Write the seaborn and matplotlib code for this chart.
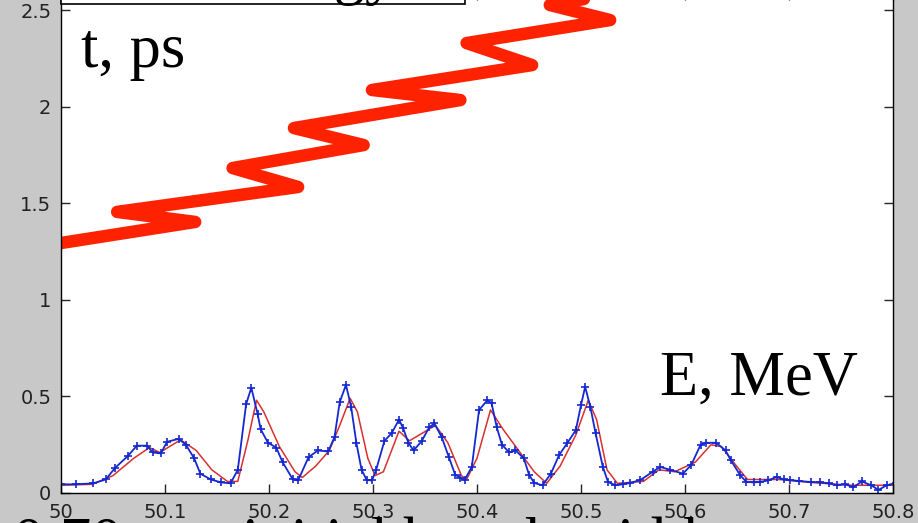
import matplotlib
matplotlib.use("Agg")
import matplotlib.pyplot as plt
import seaborn as sns
from matplotlib.patches import Rectangle

# Red band: bunch trajectory t(E), zig-zag centre line
band_E = [50.000, 50.129, 50.054, 50.228, 50.165, 50.291, 50.224,
          50.384, 50.299, 50.453, 50.390, 50.528, 50.470, 50.580]
band_t = [1.294, 1.403, 1.455, 1.584, 1.682, 1.801, 1.889,
          2.034, 2.086, 2.215, 2.329, 2.448, 2.526, 2.630]

# Blue spectrum (with + markers)
blue_E = [50.000, 50.014, 50.031, 50.043, 50.052, 50.064, 50.073, 50.083, 50.088, 50.096,
          50.102, 50.113, 50.120, 50.128, 50.134, 50.144, 50.154, 50.163, 50.170, 50.178,
          50.183, 50.189, 50.192, 50.199, 50.207, 50.213, 50.223, 50.228, 50.238, 50.247,
          50.257, 50.263, 50.268, 50.274, 50.279, 50.284, 50.289, 50.294, 50.299, 50.303,
          50.311, 50.318, 50.325, 50.329, 50.334, 50.339, 50.347, 50.354, 50.359, 50.366,
          50.373, 50.379, 50.384, 50.388, 50.395, 50.402, 50.410, 50.414, 50.419, 50.424,
          50.431, 50.437, 50.445, 50.450, 50.455, 50.463, 50.471, 50.479, 50.487, 50.495,
          50.500, 50.504, 50.509, 50.514, 50.521, 50.526, 50.533, 50.540, 50.547, 50.557,
          50.569, 50.576, 50.586, 50.598, 50.606, 50.615, 50.620, 50.630, 50.639, 50.644,
          50.653, 50.659, 50.666, 50.672, 50.680, 50.688, 50.695, 50.701, 50.710, 50.721,
          50.730, 50.738, 50.746, 50.754, 50.762, 50.770, 50.779, 50.786, 50.794, 50.803]
blue_I = [0.045, 0.045, 0.050, 0.070, 0.130, 0.190, 0.245, 0.245, 0.210, 0.205,
          0.265, 0.280, 0.250, 0.180, 0.100, 0.070, 0.055, 0.050, 0.120, 0.460,
          0.545, 0.410, 0.330, 0.260, 0.235, 0.160, 0.070, 0.065, 0.185, 0.220,
          0.215, 0.290, 0.470, 0.560, 0.445, 0.260, 0.120, 0.067, 0.065, 0.120,
          0.270, 0.310, 0.380, 0.335, 0.260, 0.220, 0.270, 0.340, 0.360, 0.290,
          0.185, 0.095, 0.078, 0.067, 0.135, 0.430, 0.480, 0.465, 0.340, 0.250,
          0.210, 0.220, 0.180, 0.095, 0.052, 0.040, 0.100, 0.197, 0.260, 0.325,
          0.455, 0.550, 0.445, 0.310, 0.135, 0.057, 0.040, 0.045, 0.052, 0.067,
          0.110, 0.135, 0.120, 0.100, 0.145, 0.250, 0.260, 0.260, 0.220, 0.170,
          0.093, 0.057, 0.055, 0.057, 0.065, 0.083, 0.070, 0.067, 0.062, 0.057,
          0.055, 0.050, 0.040, 0.045, 0.030, 0.060, 0.040, 0.016, 0.040, 0.052]

# Red spectrum (thin line)
red_E = [50.000, 50.030, 50.050, 50.070, 50.085, 50.095, 50.115, 50.130, 50.145, 50.160,
         50.170, 50.180, 50.188, 50.195, 50.210, 50.225, 50.232, 50.245, 50.258, 50.268,
         50.278, 50.285, 50.295, 50.302, 50.310, 50.325, 50.335, 50.360, 50.372, 50.385,
         50.390, 50.400, 50.413, 50.425, 50.440, 50.455, 50.467, 50.480, 50.495, 50.507,
         50.515, 50.525, 50.535, 50.560, 50.575, 50.590, 50.610, 50.625, 50.635, 50.648,
         50.660, 50.690, 50.720, 50.760, 50.800]
red_I = [0.040, 0.045, 0.090, 0.180, 0.235, 0.210, 0.275, 0.220, 0.120, 0.060,
         0.060, 0.280, 0.480, 0.420, 0.240, 0.110, 0.080, 0.140, 0.220, 0.350,
         0.490, 0.420, 0.180, 0.090, 0.110, 0.320, 0.270, 0.350, 0.260, 0.090,
         0.070, 0.180, 0.430, 0.330, 0.220, 0.110, 0.050, 0.140, 0.300, 0.480,
         0.380, 0.120, 0.050, 0.060, 0.120, 0.110, 0.160, 0.250, 0.240, 0.150,
         0.070, 0.070, 0.055, 0.040, 0.040]

x_ticks = [50, 50.1, 50.2, 50.3, 50.4, 50.5, 50.6, 50.7, 50.8]
x_labels = ["50", "50.1", "50.2", "50.3", "50.4", "50.5", "50.6", "50.7", "50.8"]
y_ticks = [0, 0.5, 1, 1.5, 2, 2.5]
y_labels = ["0", "0.5", "1", "1.5", "2", "2.5"]

sns.set_style("ticks")
plt.rcParams['font.family'] = ['DejaVu Sans']

W, H = 918, 523
fig = plt.figure(figsize=(W / 100, H / 100), dpi=100, facecolor='#c8c8c8')
# axes: y=0 at 493 px, 2.5 at 10 px; top runs past the figure edge
ax = fig.add_axes([61 / W, 30 / H, (893 - 61) / W, 502.3 / H])
ax.set_facecolor('white')

sns.lineplot(x=band_E, y=band_t, sort=False, estimator=None, ax=ax,
             color='#ff2200', linewidth=9, solid_joinstyle='round',
             solid_capstyle='round')
sns.lineplot(x=red_E, y=red_I, sort=False, estimator=None, ax=ax,
             color='#d83030', linewidth=1.1)
sns.lineplot(x=blue_E, y=blue_I, sort=False, estimator=None, ax=ax,
             color='#1428d0', linewidth=1.3, marker='+', markersize=6,
             markeredgewidth=1.2, markeredgecolor='#1428d0')

ax.set_xlim(50, 50.8)
ax.set_ylim(0, 2.6)
ax.set_xticks(x_ticks)
ax.set_xticklabels(x_labels)
ax.set_yticks(y_ticks)
ax.set_yticklabels(y_labels)
ax.tick_params(direction='in', length=6.5, width=1, top=True, right=True,
               labelsize=14, labelcolor='#222222', pad=7)
for s in ax.spines.values():
    s.set_color('black')
    s.set_linewidth(1)

serif = ['Liberation Serif', 'DejaVu Serif']
fig.text(81 / W, (H - 67) / H, "t, ps", fontsize=45, family=serif,
         color='black', va='baseline', ha='left')
fig.text(660 / W, (H - 395) / H, "E, MeV", fontsize=45, family=serif,
         color='black', va='baseline', ha='left')

# title box cut by the top edge
fig.patches.append(Rectangle((61 / W, (H - 4) / H), (465 - 61) / W, 0.06,
                             transform=fig.transFigure, facecolor='white',
                             edgecolor='black', linewidth=1.2))
fig.text(217 / W, (H + 8) / H, "Energy", fontsize=45, family=serif,
         color='black', va='baseline', ha='left', zorder=5)

# caption cut by the bottom edge
fig.text(13 / W, (H - 561) / H, "0.70 ms, initial bunch width", fontsize=45,
         family=serif, color='black', va='baseline', ha='left')

fig.savefig("out.png", dpi=100, facecolor=fig.get_facecolor())
